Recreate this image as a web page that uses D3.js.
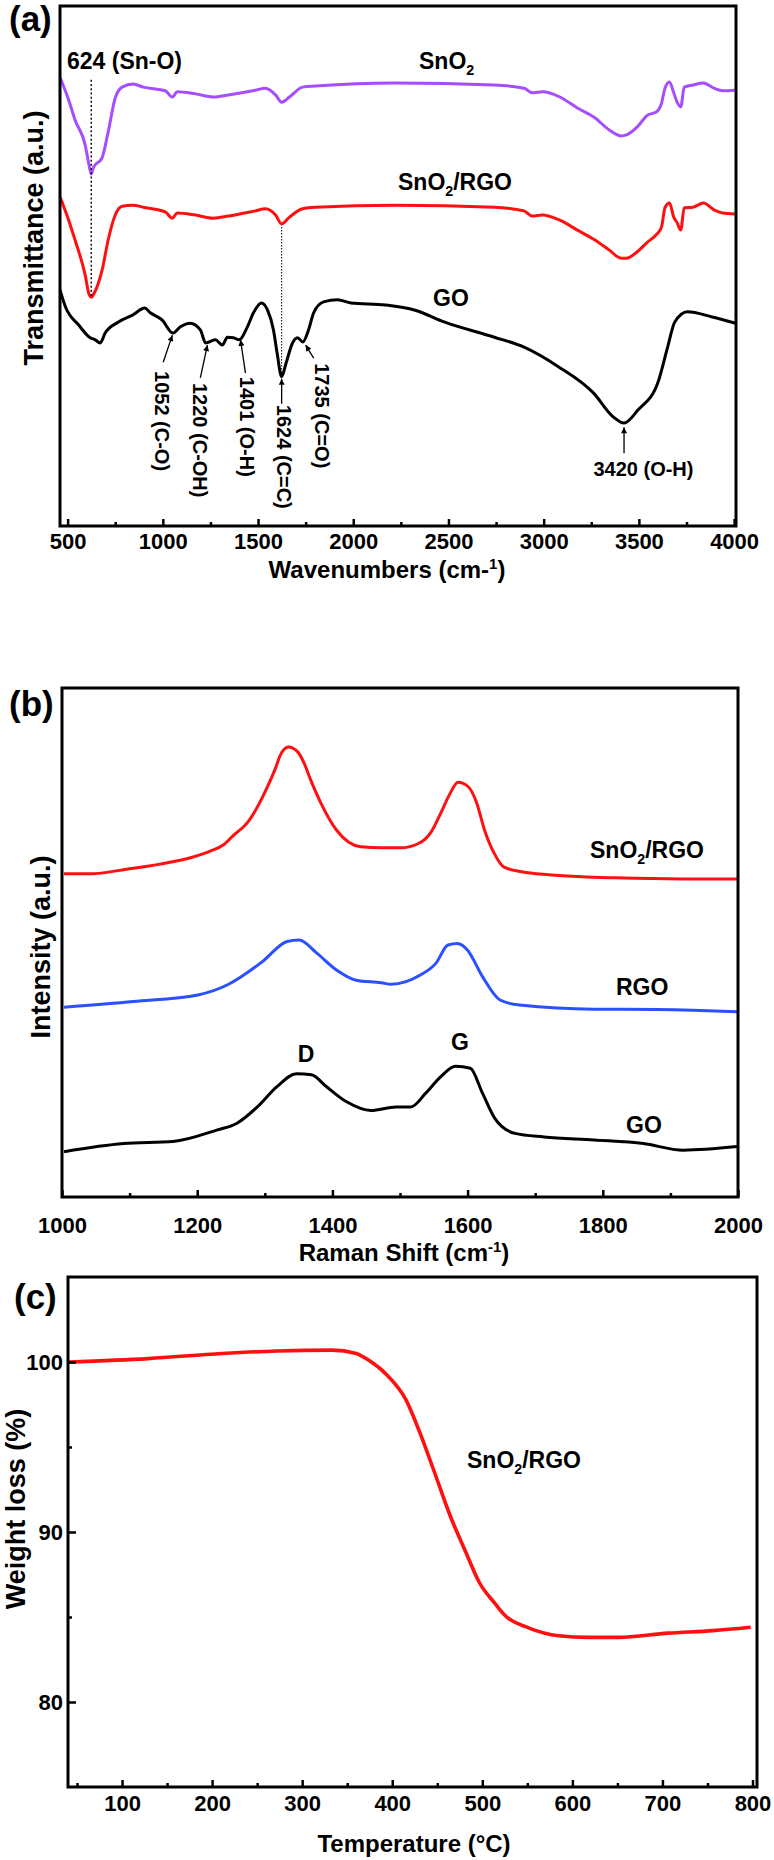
<!DOCTYPE html>
<html><head><meta charset="utf-8">
<script src="https://cdn.jsdelivr.net/npm/d3@7"></script>
<style>
html,body{margin:0;padding:0;background:#fff;}
svg text{font-family:"Liberation Sans",Arial,Helvetica,sans-serif;font-weight:bold;fill:#000;}
</style></head><body>
<svg id="chart" width="774" height="1860"></svg>
<script>
// ---------------- DATA ----------------
// (a) FTIR: [wavenumber cm-1, transmittance a.u.]
const ftirSnO2 = [[460,86.3],[502,82.3],[539,78.1],[592,73.3],[612,69.5],[624,67.7],[636,69.0],[681,70.8],[713,75.8],[750,82.3],[786,84.4],[844,85.0],[897,84.4],[1013,83.7],[1050,82.5],[1076,83.5],[1171,83.1],[1265,82.5],[1344,82.9],[1486,83.8],[1539,84.2],[1592,82.9],[1624,81.5],[1665,82.5],[1734,84.4],[1802,84.6],[2221,85.2],[2741,84.8],[2897,84.2],[2939,83.3],[2994,83.5],[3085,82.5],[3177,80.4],[3269,78.5],[3343,76.2],[3407,75.0],[3435,75.2],[3490,76.7],[3545,79.0],[3591,79.6],[3619,81.3],[3637,84.2],[3661,85.4],[3683,83.3],[3701,81.5],[3720,80.6],[3738,84.4],[3784,84.8],[3839,85.2],[3894,84.2],[3940,83.7],[4004,83.8]];
const ftirSnO2RGO = [[460,63.3],[502,59.2],[539,55.0],[592,48.3],[612,44.6],[624,44.0],[640,44.8],[681,49.2],[713,55.0],[750,59.8],[786,61.5],[844,61.7],[897,61.3],[1013,60.4],[1050,59.2],[1076,60.2],[1171,59.8],[1265,59.2],[1344,59.6],[1486,60.6],[1539,61.0],[1592,59.8],[1624,58.1],[1665,59.4],[1734,61.0],[1802,61.3],[2221,61.7],[2741,61.3],[2897,60.6],[2939,59.6],[2994,59.8],[3085,58.8],[3177,56.9],[3269,55.0],[3343,53.1],[3407,51.5],[3435,51.5],[3490,52.7],[3545,54.6],[3591,56.0],[3619,57.5],[3637,61.2],[3661,62.1],[3683,59.4],[3701,58.3],[3720,56.9],[3738,61.2],[3784,61.3],[3839,62.1],[3894,60.8],[3940,60.2],[4004,60.0]];
const ftirGO = [[460,45.4],[489,42.1],[557,38.7],[619,36.2],[645,35.8],[671,35.2],[697,37.1],[765,39.2],[843,40.6],[905,41.9],[934,41.0],[997,39.6],[1052,37.1],[1092,38.3],[1144,39.0],[1197,37.7],[1225,35.2],[1276,35.8],[1313,34.8],[1339,36.3],[1371,36.2],[1401,35.8],[1444,38.3],[1476,41.0],[1518,42.9],[1550,41.5],[1581,37.7],[1600,33.3],[1624,28.7],[1647,31.3],[1681,35.2],[1708,36.2],[1735,35.4],[1765,37.7],[1792,41.0],[1844,43.1],[1918,43.5],[1987,42.9],[2169,42.5],[2325,41.5],[2481,39.2],[2741,36.3],[2897,34.4],[3079,30.6],[3261,25.6],[3365,21.0],[3422,19.8],[3495,22.3],[3599,27.5],[3651,34.4],[3688,39.2],[3755,41.2],[3885,40.2],[4008,39.0]];
const ftirTicks = [500,1000,1500,2000,2500,3000,3500,4000];
const ftirMinor = [750,1250,1750,2250,2750,3250,3750];
const ftirPeakLabels = ["1052 (C-O)","1220 (C-OH)","1401 (O-H)","1624 (C=C)","1735 (C=O)"];

// (b) Raman: [shift cm-1, intensity a.u.]
const ramanSnO2RGO = [[1003,63.5],[1042,63.5],[1096,64.4],[1145,65.4],[1194,66.8],[1220,68.0],[1239,69.2],[1254,71.1],[1274,73.5],[1289,76.6],[1304,80.6],[1316,84.3],[1323,86.8],[1335,88.4],[1349,87.4],[1358,85.3],[1368,81.9],[1383,77.4],[1406,72.1],[1442,68.8],[1472,68.6],[1501,68.6],[1528,69.5],[1546,71.7],[1561,75.6],[1573,79.0],[1586,81.5],[1601,80.6],[1613,77.6],[1625,72.1],[1639,67.6],[1654,64.8],[1680,63.9],[1720,63.3],[1769,62.9],[1818,62.7],[1917,62.5],[1999,62.5]];
const ramanRGO = [[1003,37.3],[1106,38.4],[1201,39.7],[1245,41.7],[1296,46.2],[1333,50.2],[1351,50.5],[1377,47.9],[1406,44.6],[1435,42.6],[1472,42.1],[1487,41.8],[1530,43.6],[1553,45.9],[1571,49.5],[1585,49.8],[1600,48.5],[1622,43.3],[1648,38.7],[1677,37.7],[1787,36.9],[1831,36.9],[1933,36.7],[1999,36.4]];
const ramanGO = [[1003,8.9],[1091,10.5],[1164,10.9],[1230,13.2],[1259,14.5],[1289,17.7],[1318,21.7],[1347,24.2],[1369,24.0],[1391,21.7],[1421,18.7],[1457,17.0],[1494,17.7],[1516,17.7],[1538,20.4],[1560,23.6],[1582,25.7],[1604,25.3],[1622,20.4],[1640,15.5],[1670,12.5],[1713,11.8],[1787,11.2],[1860,10.5],[1919,9.2],[1999,9.9]];
const ramanTicks = [1000,1200,1400,1600,1800,2000];
const ramanMinor = [1100,1300,1500,1700,1900];

// (c) TGA: [temperature °C, weight %]
const tgaSnO2RGO = [[41,100.0],[129,100.2],[211,100.5],[272,100.65],[333,100.7],[360,100.5],[374,100.1],[393,99.3],[415,97.8],[431,95.8],[447,93.5],[464,91.0],[481,88.9],[497,87.0],[514,85.8],[525,85.1],[552,84.35],[585,83.9],[618,83.8],[651,83.8],[706,84.05],[756,84.2],[798,84.4]];
const tgaXTicks = [100,200,300,400,500,600,700,800];
const tgaXMinor = [50,150,250,350,450,550,650,750];
const tgaYTicks = [80,90,100];
const tgaYMinor = [85,95];

// ---------------- DRAW ----------------
const svg = d3.select("#chart");
const FF = '"Liberation Sans",Arial,Helvetica,sans-serif';
const PURPLE = "#a64dff", RED = "#ff1010", BLUE = "#2a50ff";
const TICK_FS = 22, LBL_FS = 23, TITLE_FS = 24, YTITLE_FS = 27;

const defs = svg.append("defs");
defs.append("marker").attr("id","arr").attr("viewBox","0 0 10 10").attr("refX",10).attr("refY",5)
  .attr("markerWidth",7).attr("markerHeight",6).attr("markerUnits","userSpaceOnUse").attr("orient","auto")
  .append("path").attr("d","M0,0 L10,5 L0,10 z").attr("fill","#000");

function styleAxis(ax){
  ax.select(".domain").remove();
  ax.selectAll("line").attr("stroke","#000").attr("stroke-width",2.5);
  ax.selectAll("text").attr("font-size",TICK_FS).attr("font-family",FF).attr("font-weight","bold").attr("fill","#000");
}
function bottomAxis(x, y0, ticks, minor, pad){
  const m = svg.append("g").attr("transform",`translate(0,${y0})`)
    .call(d3.axisBottom(x).tickValues(minor).tickSizeInner(-4).tickSizeOuter(0).tickFormat(""));
  styleAxis(m);
  const a = svg.append("g").attr("transform",`translate(0,${y0})`)
    .call(d3.axisBottom(x).tickValues(ticks).tickSizeInner(-7).tickSizeOuter(0).tickPadding(pad).tickFormat(d3.format("d")));
  styleAxis(a);
}
function frame(x, y){
  const [x0,x1] = x.range(), [y0,y1] = y.range();
  svg.append("rect").attr("x",x0).attr("y",y1).attr("width",x1-x0).attr("height",y0-y1)
    .attr("fill","none").attr("stroke","#000").attr("stroke-width",3);
}
function curve(data, x, y, color, w){
  svg.append("path").datum(data)
    .attr("d", d3.line().x(d=>x(d[0])).y(d=>y(d[1])).curve(d3.curveMonotoneX))
    .attr("fill","none").attr("stroke",color).attr("stroke-width",w).attr("stroke-linejoin","round");
}
// parts: strings, {sub:".."} or {sup:".."}; baseline shift is undone on the following string
function label(tx, ty, parts, size, anchor){
  const t = svg.append("text").attr("x",tx).attr("y",ty).attr("font-size",size).attr("text-anchor",anchor||"start");
  let back = 0;
  parts.forEach(p=>{
    if (typeof p === "string") { const s = t.append("tspan").text(p); if (back) s.attr("dy",back); back = 0; }
    else if (p.sub) { t.append("tspan").attr("font-size",size*0.62).attr("dy",size*0.28).text(p.sub); back = -size*0.28; }
    else if (p.sup) { t.append("tspan").attr("font-size",size*0.62).attr("dy",-size*0.38).text(p.sup); back = size*0.38; }
  });
  return t;
}
function yTitle(bx, cy, text, size){
  svg.append("text").attr("transform",`translate(${bx},${cy}) rotate(-90)`)
    .attr("text-anchor","middle").attr("font-size",size).text(text);
}

// ===== Panel (a) =====
{
  const x = d3.scaleLinear().domain([460,4010]).range([60,736]);
  const y = d3.scaleLinear().domain([0,100]).range([526,6]);
  curve(ftirSnO2, x, y, PURPLE, 3);
  curve(ftirSnO2RGO, x, y, RED, 3);
  curve(ftirGO, x, y, "#000", 3);
  svg.append("line").attr("x1",x(624)).attr("x2",x(624)).attr("y1",y(85.8)).attr("y2",y(44.0))
    .attr("stroke","#000").attr("stroke-width",1.4).attr("stroke-dasharray","2,2.2");
  svg.append("line").attr("x1",x(1624)).attr("x2",x(1624)).attr("y1",y(57.5)).attr("y2",y(28.7))
    .attr("stroke","#000").attr("stroke-width",1).attr("stroke-dasharray","1.5,1.5");
  const ann = [
    {tip:[1050,36.7], tail:[1002,31.5], txt:[958,29.8]},
    {tip:[1234,34.8], tail:[1197,28.5], txt:[1158,27.5]},
    {tip:[1408,35.8], tail:[1434,29.4], txt:[1406,28.7]},
    {tip:[1624,28.3], tail:[1624,23.5], txt:[1598,23.3]},
    {tip:[1750,34.8], tail:[1792,32.3], txt:[1800,31.3]}
  ];
  ann.forEach((a,i)=>{
    svg.append("line").attr("x1",x(a.tail[0])).attr("y1",y(a.tail[1])).attr("x2",x(a.tip[0])).attr("y2",y(a.tip[1]))
      .attr("stroke","#000").attr("stroke-width",1.3).attr("marker-end","url(#arr)");
    svg.append("text").attr("transform",`translate(${x(a.txt[0])},${y(a.txt[1])}) rotate(90)`)
      .attr("font-size",20).text(ftirPeakLabels[i]);
  });
  svg.append("line").attr("x1",x(3422)).attr("x2",x(3422)).attr("y1",y(14.0)).attr("y2",y(19.0))
    .attr("stroke","#000").attr("stroke-width",1.3).attr("marker-end","url(#arr)");
  svg.append("text").attr("x",x(3524)).attr("y",y(9.6)).attr("text-anchor","middle").attr("font-size",20).text("3420 (O-H)");

  label(67, 69, ["624 (Sn-O)"], LBL_FS);
  label(419, 69, ["SnO",{sub:"2"}], LBL_FS);
  label(398, 190, ["SnO",{sub:"2"},"/RGO"], LBL_FS);
  label(433, 306, ["GO"], LBL_FS);
  frame(x, y);
  bottomAxis(x, 526, ftirTicks, ftirMinor, 7);
  label(387, 578, ["Wavenumbers (cm-",{sup:"1"},")"], TITLE_FS, "middle");
  yTitle(43, 238, "Transmittance (a.u.)", YTITLE_FS);
  label(9, 31, ["(a)"], 35);
}

// ===== Panel (b) =====
{
  const x = d3.scaleLinear().domain([1000,2000]).range([62,738]);
  const y = d3.scaleLinear().domain([0,100]).range([1197,688]);
  curve(ramanSnO2RGO, x, y, RED, 3);
  curve(ramanRGO, x, y, BLUE, 3);
  curve(ramanGO, x, y, "#000", 3);
  label(590, 858, ["SnO",{sub:"2"},"/RGO"], LBL_FS);
  label(616, 995, ["RGO"], LBL_FS);
  label(306, 1062, ["D"], LBL_FS, "middle");
  label(460, 1050, ["G"], LBL_FS, "middle");
  label(626, 1133, ["GO"], LBL_FS);
  frame(x, y);
  bottomAxis(x, 1197, ramanTicks, ramanMinor, 20);
  label(404, 1261, ["Raman Shift (cm",{sup:"-1"},")"], TITLE_FS, "middle");
  yTitle(50, 947, "Intensity (a.u.)", YTITLE_FS);
  label(9, 716, ["(b)"], 35);
}

// ===== Panel (c) =====
{
  const x = d3.scaleLinear().domain([40,805]).range([68,757]);
  const y = d3.scaleLinear().domain([75,105]).range([1787,1277]);
  curve(tgaSnO2RGO, x, y, RED, 3.6);
  label(467, 1468, ["SnO",{sub:"2"},"/RGO"], LBL_FS);
  frame(x, y);
  bottomAxis(x, 1787, tgaXTicks, tgaXMinor, 8);
  const m = svg.append("g").attr("transform",`translate(68,0)`)
    .call(d3.axisLeft(y).tickValues(tgaYMinor).tickSizeInner(-4).tickSizeOuter(0).tickFormat(""));
  styleAxis(m);
  const a = svg.append("g").attr("transform",`translate(68,0)`)
    .call(d3.axisLeft(y).tickValues(tgaYTicks).tickSizeInner(-8).tickSizeOuter(0).tickPadding(5));
  styleAxis(a);
  label(414, 1852, ["Temperature (°C)"], TITLE_FS, "middle");
  yTitle(25, 1509, "Weight loss (%)", YTITLE_FS);
  label(14, 1309, ["(c)"], 35);
}
</script>
</body></html>
